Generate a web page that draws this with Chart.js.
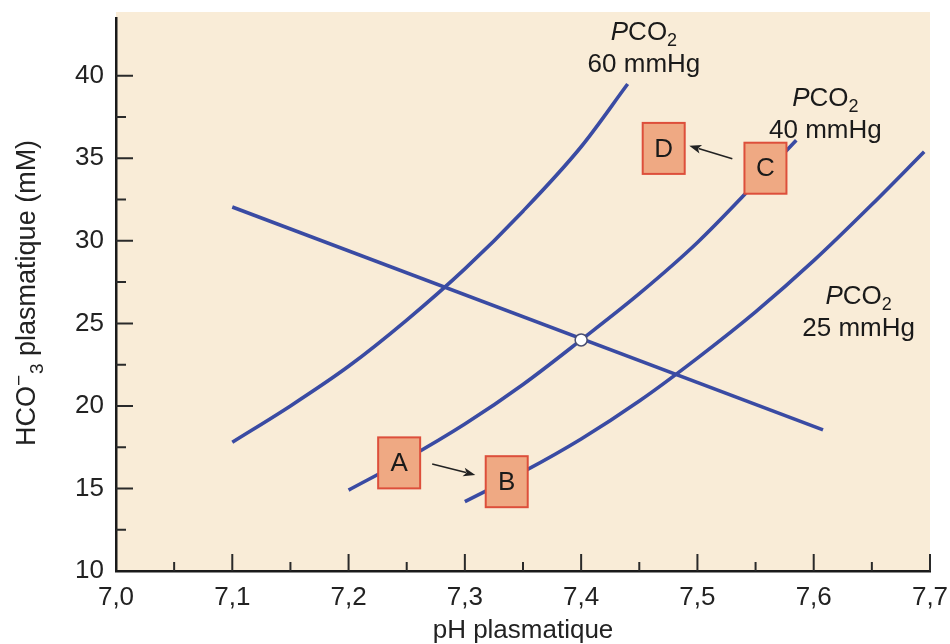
<!DOCTYPE html>
<html><head><meta charset="utf-8">
<script src="https://cdn.jsdelivr.net/npm/chart.js@4.4.1/dist/chart.umd.min.js"></script>
<style>html,body{margin:0;padding:0;background:#fff}#wrap{width:950px;height:644px}</style>
</head><body><div id="wrap"><canvas id="c" width="950" height="644"></canvas></div>
<script>
// ---- data ----
const xTickValues = [7.0, 7.1, 7.2, 7.3, 7.4, 7.5, 7.6, 7.7];
const xMinorTicks = [7.05, 7.15, 7.25, 7.35, 7.45, 7.55, 7.65];
const yTickValues = [10, 15, 20, 25, 30, 35, 40];
const yMinorTicks = [12.5, 17.5, 22.5, 27.5, 32.5, 37.5];

const phIso60   = [7.10, 7.15, 7.20, 7.25, 7.30, 7.35, 7.40, 7.44];
const hco3Iso60 = [17.8, 20.0, 22.4, 25.2, 28.3, 31.8, 35.7, 39.5];
const phIso40   = [7.20, 7.25, 7.30, 7.35, 7.40, 7.45, 7.50, 7.55, 7.585];
const hco3Iso40 = [14.9, 16.8, 18.9, 21.3, 24.0, 26.8, 29.9, 33.5, 36.1];
const phIso25   = [7.30, 7.35, 7.40, 7.45, 7.50, 7.55, 7.60, 7.65, 7.695];
const hco3Iso25 = [14.2, 16.0, 18.0, 20.3, 22.9, 25.7, 28.8, 32.2, 35.4];
const phBuffer   = [7.10, 7.608];
const hco3Buffer = [32.05, 18.55];
const phNormal   = [7.40];
const hco3Normal = [24.0];

const boxLabels = ['A', 'B', 'C', 'D'];
const boxPH     = [7.2435, 7.336, 7.5585, 7.471];
const boxHCO3   = [16.55, 15.41, 34.4, 35.6];

const arrowFromPH   = [7.2719, 7.530];
const arrowFromHCO3 = [16.48, 34.97];
const arrowToPH     = [7.309, 7.493];
const arrowToHCO3   = [15.82, 35.76];

const isoLabelValues = ['60 mmHg', '40 mmHg', '25 mmHg'];
const isoLabelPH     = [7.454, 7.610, 7.6386];
const isoLabelHCO3   = [42.18, 38.18, 26.18];

// ---- styles ----
const BLUE = '#3A4BA3';
const FONT = '"Liberation Sans", Arial, Helvetica, sans-serif';
const FS = 26;

const toPts = (xs, ys) => xs.map((x, i) => ({x, y: ys[i]}));
const lineDs = (xs, ys) => ({
  data: toPts(xs, ys), showLine: true, borderColor: BLUE, borderWidth: 3.6,
  pointRadius: 0, fill: false, cubicInterpolationMode: 'monotone', order: 2,
  borderCapStyle: 'butt'
});

const bgPlugin = {
  id: 'bg',
  beforeDraw(chart) {
    const {ctx, chartArea: a} = chart;
    ctx.save();
    ctx.fillStyle = '#F9ECD7';
    ctx.fillRect(a.left, a.top - 6, a.right - a.left, a.bottom - a.top + 6);
    ctx.restore();
  }
};

const ticksPlugin = {
  id: 'innerTicks',
  afterDraw(chart) {
    const {ctx, chartArea: a, scales: {x, y}} = chart;
    ctx.save();
    ctx.strokeStyle = '#2a2a2a';
    ctx.lineWidth = 2;
    ctx.beginPath();
    xTickValues.forEach(v => { if (v === xTickValues[0]) return; const px = x.getPixelForValue(v); ctx.moveTo(px, a.bottom); ctx.lineTo(px, a.bottom - 17); });
    xMinorTicks.forEach(v => { const px = x.getPixelForValue(v); ctx.moveTo(px, a.bottom); ctx.lineTo(px, a.bottom - 9); });
    yTickValues.forEach(v => { if (v === yTickValues[0]) return; const py = y.getPixelForValue(v); ctx.moveTo(a.left, py); ctx.lineTo(a.left + 17, py); });
    yMinorTicks.forEach(v => { const py = y.getPixelForValue(v); ctx.moveTo(a.left, py); ctx.lineTo(a.left + 10, py); });
    ctx.stroke();

    // y axis title with HCO3- notation
    ctx.fillStyle = '#222';
    ctx.translate(28, 293);
    ctx.rotate(-Math.PI / 2);
    ctx.textBaseline = 'middle';
    const big = '27px ' + FONT, small = '19px ' + FONT;
    ctx.font = big;
    const w1 = ctx.measureText('HCO').width;
    ctx.font = small;
    const wm = ctx.measureText('\u2212').width;
    const w3 = ctx.measureText('3').width;
    ctx.font = big;
    const w4 = ctx.measureText(' plasmatique (mM)').width;
    const total = w1 + wm + w3 + 1 + w4;
    let cx = -total / 2;
    ctx.textAlign = 'left';
    ctx.fillText('HCO', cx, 0); cx += w1;
    ctx.font = small;
    ctx.fillText('\u2212', cx, -8); cx += wm;
    ctx.fillText('3', cx + 1, 10); cx += w3 + 1;
    ctx.font = big;
    ctx.fillText(' plasmatique (mM)', cx, 0);
    ctx.restore();
  }
};

function drawPCO2(ctx, cx, baseY) {
  const it = 'italic ' + FS + 'px ' + FONT, nm = FS + 'px ' + FONT, sm = '18px ' + FONT;
  ctx.font = it; const wP = ctx.measureText('P').width;
  ctx.font = nm; const wC = ctx.measureText('CO').width;
  ctx.font = sm; const w2 = ctx.measureText('2').width;
  let x0 = cx - (wP + wC + w2) / 2;
  ctx.textAlign = 'left'; ctx.textBaseline = 'alphabetic';
  ctx.font = it; ctx.fillText('P', x0, baseY); x0 += wP;
  ctx.font = nm; ctx.fillText('CO', x0, baseY); x0 += wC;
  ctx.font = sm; ctx.fillText('2', x0, baseY + 6);
}

const annoPlugin = {
  id: 'anno',
  afterDatasetsDraw(chart) {
    const {ctx, scales: {x, y}} = chart;
    ctx.save();
    // boxes
    boxLabels.forEach((lab, i) => {
      const cx = x.getPixelForValue(boxPH[i]), cy = y.getPixelForValue(boxHCO3[i]);
      const w = 42, h = 51;
      ctx.fillStyle = '#EFA983';
      ctx.strokeStyle = '#DD4F3B';
      ctx.lineWidth = 2;
      ctx.fillRect(cx - w / 2, cy - h / 2, w, h);
      ctx.strokeRect(cx - w / 2, cy - h / 2, w, h);
      ctx.fillStyle = '#1a1a1a';
      ctx.font = FS + 'px ' + FONT;
      ctx.textAlign = 'center'; ctx.textBaseline = 'middle';
      ctx.fillText(lab, cx, cy + 1);
    });
    // arrows
    arrowFromPH.forEach((_, i) => {
      const x1 = x.getPixelForValue(arrowFromPH[i]), y1 = y.getPixelForValue(arrowFromHCO3[i]);
      const x2 = x.getPixelForValue(arrowToPH[i]), y2 = y.getPixelForValue(arrowToHCO3[i]);
      const ang = Math.atan2(y2 - y1, x2 - x1);
      const L = 12, W = 4.5;
      ctx.strokeStyle = '#222'; ctx.fillStyle = '#222'; ctx.lineWidth = 1.6;
      ctx.beginPath();
      ctx.moveTo(x1, y1);
      ctx.lineTo(x2 - Math.cos(ang) * L * 0.8, y2 - Math.sin(ang) * L * 0.8);
      ctx.stroke();
      ctx.beginPath();
      ctx.moveTo(x2, y2);
      ctx.lineTo(x2 - Math.cos(ang) * L + Math.sin(ang) * W, y2 - Math.sin(ang) * L - Math.cos(ang) * W);
      ctx.lineTo(x2 - Math.cos(ang) * L * 0.75, y2 - Math.sin(ang) * L * 0.75);
      ctx.lineTo(x2 - Math.cos(ang) * L - Math.sin(ang) * W, y2 - Math.sin(ang) * L + Math.cos(ang) * W);
      ctx.closePath();
      ctx.fill();
    });
    // PCO2 labels
    ctx.fillStyle = '#1a1a1a';
    isoLabelValues.forEach((t, i) => {
      const cx = x.getPixelForValue(isoLabelPH[i]), by = y.getPixelForValue(isoLabelHCO3[i]);
      drawPCO2(ctx, cx, by);
      ctx.font = FS + 'px ' + FONT;
      ctx.textAlign = 'center'; ctx.textBaseline = 'alphabetic';
      ctx.fillText(t, cx, by + 32);
    });
    ctx.restore();
  }
};

new Chart(document.getElementById('c'), {
  type: 'scatter',
  data: {
    datasets: [
      {
        data: toPts(phNormal, hco3Normal), pointRadius: 6, pointBackgroundColor: '#ffffff',
        pointBorderColor: '#4a4f72', pointBorderWidth: 1.5, showLine: false, order: 0
      },
      lineDs(phBuffer, hco3Buffer),
      lineDs(phIso60, hco3Iso60),
      lineDs(phIso40, hco3Iso40),
      lineDs(phIso25, hco3Iso25)
    ]
  },
  options: {
    responsive: false,
    devicePixelRatio: 1,
    animation: false,
    layout: {padding: {top: 18, right: 20, left: 0, bottom: 0}},
    plugins: {legend: {display: false}, tooltip: {enabled: false}},
    scales: {
      x: {
        type: 'linear', min: 7.0, max: 7.7,
        afterBuildTicks: s => { s.ticks = xTickValues.map(v => ({value: v})); },
        afterFit: s => { s.height = 73; s.paddingLeft = 0; s.paddingRight = 0; },
        grid: {display: true, drawOnChartArea: false, drawTicks: false, color: 'rgba(0,0,0,0)'},
        border: {display: true, color: '#1a1a1a', width: 2.5},
        ticks: {
          padding: 11, color: '#222', font: {family: FONT, size: FS}, maxRotation: 0, autoSkip: false,
          callback: v => Number(v).toFixed(1).replace('.', ',')
        },
        title: {display: true, text: 'pH plasmatique', color: '#222', font: {family: FONT, size: FS}, padding: {top: 0, bottom: -2}}
      },
      y: {
        type: 'linear', min: 10, max: 43.5,
        afterBuildTicks: s => { s.ticks = yTickValues.map(v => ({value: v})); },
        afterFit: s => { s.width = 116; s.paddingTop = 0; s.paddingBottom = 0; },
        grid: {display: true, drawOnChartArea: false, drawTicks: false, color: 'rgba(0,0,0,0)'},
        border: {display: true, color: '#1a1a1a', width: 2.5},
        ticks: {padding: 12, color: '#222', font: {family: FONT, size: FS}, autoSkip: false}
      }
    }
  },
  plugins: [bgPlugin, ticksPlugin, annoPlugin]
});
</script>
</body></html>
